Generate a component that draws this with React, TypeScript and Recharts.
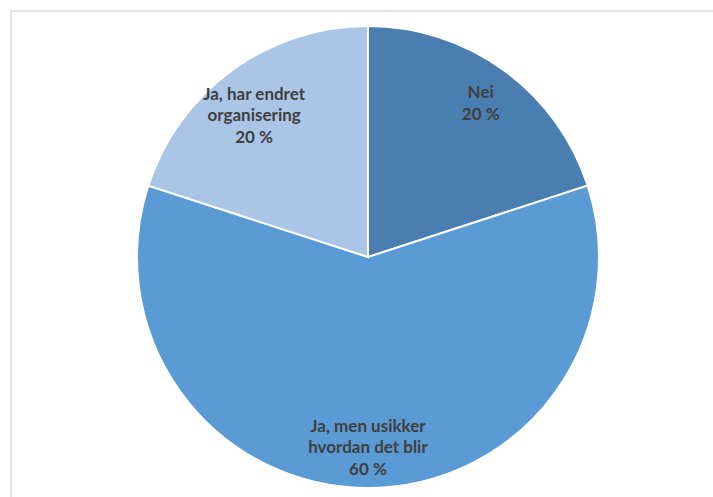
import React from 'react'
import { PieChart, Pie, Cell } from 'recharts'

// svar-kategorier i rekkefølge med klokka fra kl. 12
const categories = ['Nei', 'Ja, men usikker hvordan det blir', 'Ja, har endret organisering']
const shares = [20, 60, 20]
const labelLines = [['Nei'], ['Ja, men usikker', 'hvordan det blir'], ['Ja, har endret', 'organisering']]

const COLORS = ['#4a7eb1', '#5a9ad5', '#abc5e6']
// etikettplassering (andel av radius, vinkeljustering i grader)
const LABEL_R = [0.83, 0.82, 0.79]
const LABEL_DA = [0, 0, 2.6]

const chartData = categories.map((name, i) => ({ name, value: shares[i], lines: labelLines[i] }))

const renderLabel = (props: any) => {
  const { cx, cy, midAngle, outerRadius, value, index } = props
  const RADIAN = Math.PI / 180
  const r = outerRadius * LABEL_R[index]
  const a = midAngle + LABEL_DA[index]
  const x = cx + r * Math.cos(-a * RADIAN)
  const y = cy + r * Math.sin(-a * RADIAN)
  const lines = [...chartData[index].lines, `${value} %`]
  const lh = 21.3
  const top = y - ((lines.length - 1) * lh) / 2
  return (
    <text
      x={x}
      y={top}
      fill="#404040"
      textAnchor="middle"
      dominantBaseline="central"
      style={{ fontSize: '17px', fontWeight: 'bold', fontFamily: 'Lato, "Open Sans", sans-serif' }}
    >
      {lines.map((t, i) => (
        <tspan key={i} x={x} y={top + i * lh} dominantBaseline="central">
          {t}
        </tspan>
      ))}
    </text>
  )
}

export default function App() {
  return (
    <div style={{ position: 'fixed', left: 0, top: 0, width: 713, height: 497, background: '#fff', overflow: 'hidden' }}>
      <div
        style={{
          position: 'absolute',
          left: 10,
          top: 10,
          width: 720,
          height: 520,
          border: '2px solid #e4e4e4',
          boxSizing: 'border-box'
        }}
      />
      <div style={{ position: 'absolute', left: 0, top: 0 }}>
        <PieChart width={713} height={497} margin={{ top: 0, right: 0, bottom: 0, left: 0 }}>
          <Pie
            data={chartData}
            dataKey="value"
            cx={368}
            cy={257}
            outerRadius={231}
            startAngle={90}
            endAngle={-270}
            stroke="#ffffff"
            strokeWidth={2}
            labelLine={false}
            label={renderLabel}
            isAnimationActive={false}
          >
            {chartData.map((_e, i) => (
              <Cell key={`cell-${i}`} fill={COLORS[i]} />
            ))}
          </Pie>
        </PieChart>
      </div>
    </div>
  )
}
